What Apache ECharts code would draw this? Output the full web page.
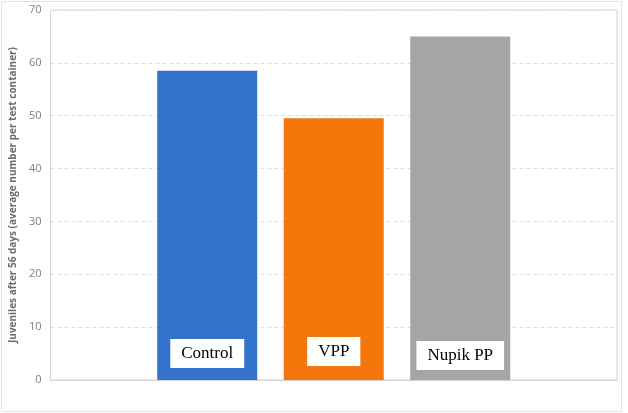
<!DOCTYPE html>
<html>
<head>
<meta charset="utf-8">
<script src="https://cdn.jsdelivr.net/npm/echarts@6/dist/echarts.min.js"></script>
<style>
  html, body { margin: 0; padding: 0; background: #fff; }
  #chart { width: 628px; height: 413px; }
</style>
</head>
<body>
<div id="chart"></div>
<script>
  // one category, three series (as in the original spreadsheet chart)
  const seriesNames = ['Control', 'VPP', 'Nupik PP']
  const seriesValues = [58.5, 49.5, 65]
  const seriesColors = ['#3273cc', '#f5760b', '#a5a5a5']
  const labelDistance = [12, 14, 10]
  const yTicks = { min: 0, max: 70, interval: 10 }

  const chart = echarts.init(document.getElementById('chart'))

  chart.setOption({
    animation: false,
    grid: {
      left: 46,
      right: 11,
      top: 10,
      bottom: 33,
      show: true,
      borderColor: '#d4d4d4',
      borderWidth: 1
    },
    graphic: [{
      type: 'rect',
      shape: { x: 1.5, y: 1.5, width: 620, height: 410 },
      style: { fill: 'none', stroke: '#e3e3e3', lineWidth: 1 },
      silent: true
    }],
    xAxis: {
      type: 'category',
      data: [''],
      axisLine: { show: true, lineStyle: { color: '#d4d4d4' } },
      axisTick: { show: false },
      axisLabel: { show: false }
    },
    yAxis: {
      type: 'value',
      min: yTicks.min,
      max: yTicks.max,
      interval: yTicks.interval,
      name: 'Juveniles after 56 days (average number per test container)',
      nameLocation: 'middle',
      nameGap: 28,
      nameTextStyle: {
        color: '#6b6b6b',
        fontSize: 10,
        fontWeight: 'bold',
        fontFamily: 'Open Sans'
      },
      axisLine: { show: false },
      axisTick: { show: false },
      axisLabel: {
        color: '#7f7f7f',
        fontSize: 11,
        margin: 9,
        fontFamily: 'Open Sans'
      },
      splitLine: {
        lineStyle: { color: '#dedede', type: [4, 3] }
      }
    },
    series: seriesNames.map((name, i) => ({
      name: name,
      type: 'bar',
      data: [seriesValues[i]],
      barWidth: 100,
      barGap: '26.5%',
      itemStyle: { color: seriesColors[i] },
      label: {
        show: true,
        position: 'insideBottom',
        distance: labelDistance[i],
        formatter: name,
        backgroundColor: '#fff',
        padding: [6, 11],
        color: '#000',
        fontSize: 17,
        fontFamily: 'Liberation Serif'
      }
    }))
  })
</script>
</body>
</html>
